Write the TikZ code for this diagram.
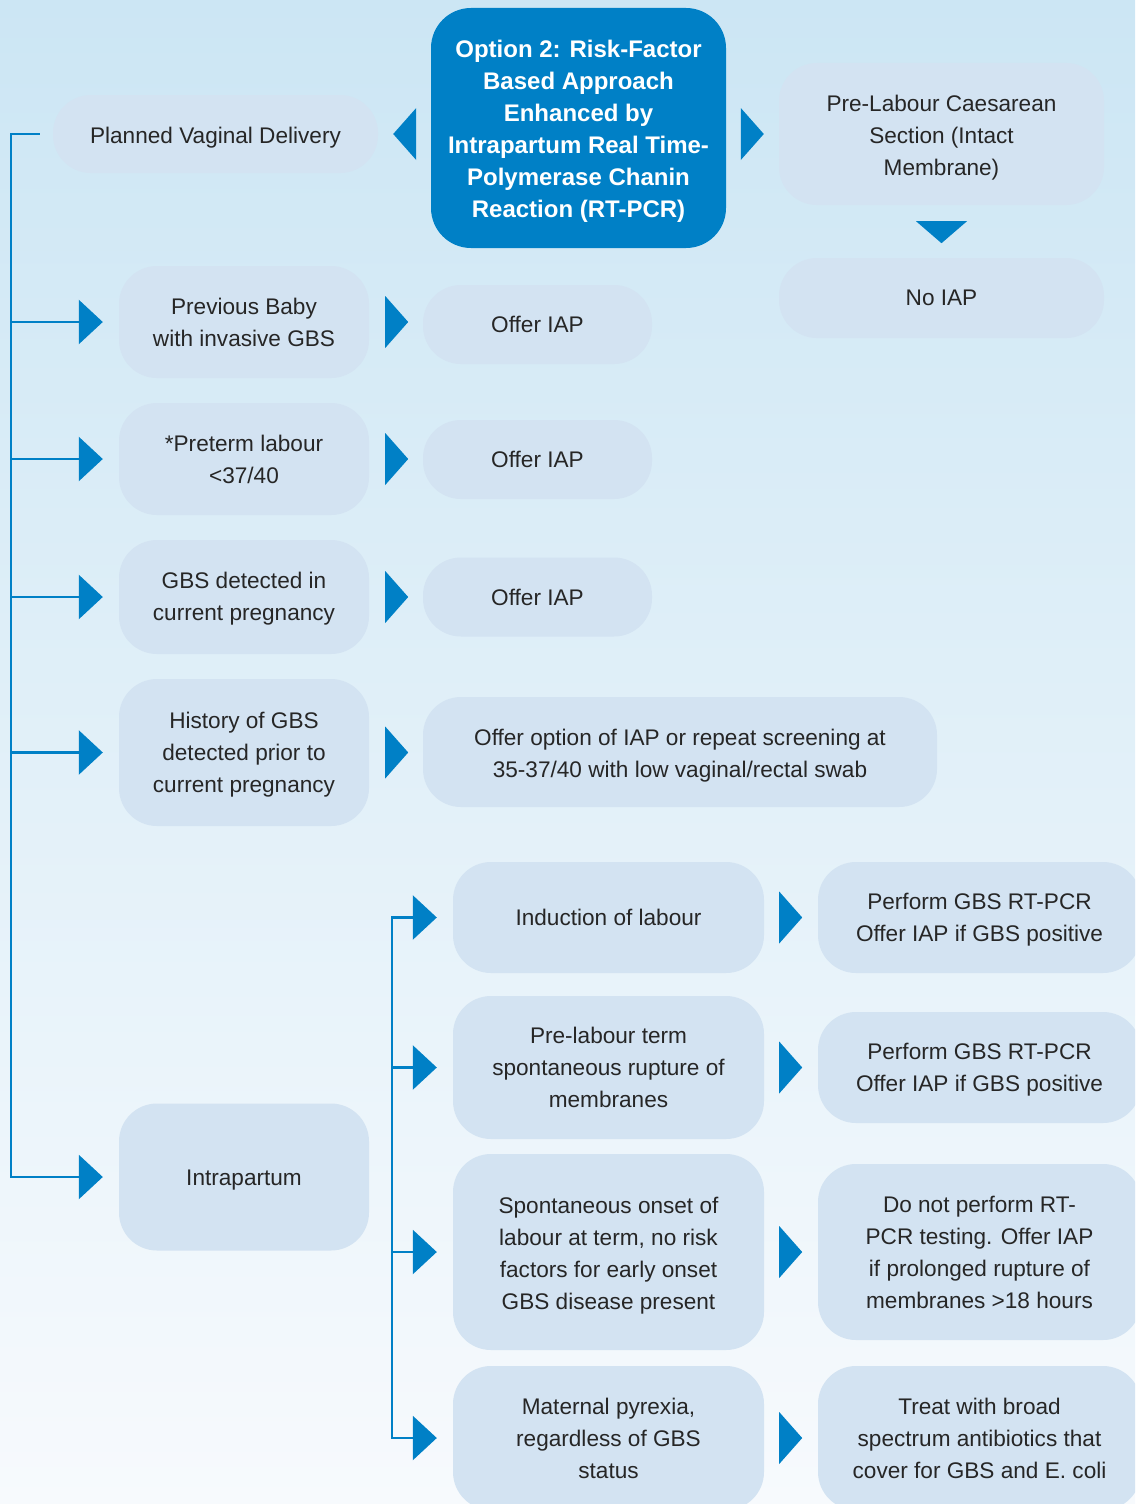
\documentclass[tikz,border=0pt]{standalone}
\usepackage{fontspec}
\setmainfont{Liberation Sans}
\usetikzlibrary{arrows.meta,calc}
\definecolor{bgtop}{HTML}{CCE6F4}
\definecolor{bgbot}{HTML}{F7FAFD}
\definecolor{boxfill}{HTML}{D3E3F2}
\definecolor{gbsblue}{HTML}{0080C6}
\definecolor{txt}{HTML}{262626}
\newcommand\rtri[2]{\fill[gbsblue] ($(#1)+(#2,-26)$) -- ($(#1)+(#2+23,0)$) -- ($(#1)+(#2,26)$) -- cycle;}
\newcommand\lowr[1]{\rule{0pt}{#1pt}}
\begin{document}
\begin{tikzpicture}[x=1pt,y=-1pt,
  box/.style={fill=boxfill, rounded corners=38pt, text=txt, align=center,
    font=\fontsize{22.6}{32}\selectfont, inner sep=0pt},
  optbox/.style={fill=gbsblue, rounded corners=40pt, text=white, align=center,
    font=\fontsize{24}{32}\selectfont\bfseries, inner sep=0pt},
  conn/.style={draw=gbsblue, line width=2.5pt, -{Triangle[length=24pt,width=44pt]}},
  bothconn/.style={draw=gbsblue, line width=2.5pt,
    {Triangle[length=24pt,width=44pt]}-{Triangle[length=24pt,width=44pt]}}
]
\useasboundingbox (0,0) rectangle (1135,1504);
\clip (0,0) rectangle (1135,1504);
\shade[top color=bgtop, bottom color=bgbot] (0,0) rectangle (1135,1504);

% top row
\node[box, minimum width=325pt, minimum height=78pt] (pvd) at (215.5,134) {\lowr{24.5}Planned Vaginal Delivery};
\node[optbox, minimum width=295pt, minimum height=240pt] (opt) at (578.5,128)
  {\lowr{23.5}Option 2: Risk-Factor\\Based Approach\\Enhanced by\\Intrapartum Real Time-\\Polymerase Chanin\\Reaction (RT-PCR)};
\node[box, minimum width=325pt, minimum height=142pt] (plcs) at (941.5,134)
  {\lowr{24.5}Pre-Labour Caesarean\\Section (Intact\\Membrane)};
\node[box, minimum width=325pt, minimum height=80pt] (noiap) at (941.5,298) {No IAP};

% left column
\node[box, minimum width=250pt, minimum height=112pt] (prev) at (244,322) {Previous Baby\\with invasive GBS};
\node[box, minimum width=250pt, minimum height=112pt] (preterm) at (244,459) {*Preterm labour\\<37/40};
\node[box, minimum width=250pt, minimum height=114pt] (gbs) at (244,597) {\lowr{20.5}GBS detected in\\current pregnancy};
\node[box, minimum width=250pt, minimum height=147pt] (hist) at (244,752.5) {\lowr{20.5}History of GBS\\detected prior to\\current pregnancy};
\node[box, minimum width=250pt, minimum height=147pt] (intra) at (244,1177) {\lowr{22.5}Intrapartum};

% offers
\node[box, minimum width=229pt, minimum height=79pt] (off1) at (537.5,324.5) {Offer IAP};
\node[box, minimum width=229pt, minimum height=79pt] (off2) at (537.5,459.5) {Offer IAP};
\node[box, minimum width=229pt, minimum height=79pt] (off3) at (537.5,597) {Offer IAP};
\node[box, minimum width=514pt, minimum height=110pt] (off4) at (680,752)
  {\lowr{24.5}Offer option of IAP or repeat screening at\\35-37/40 with low vaginal/rectal swab};

% intrapartum branches
\node[box, minimum width=311pt, minimum height=111pt] (induct) at (608.5,917.5) {Induction of labour};
\node[box, minimum width=311pt, minimum height=143pt] (plterm) at (608.5,1067.5) {Pre-labour term\\spontaneous rupture of\\membranes};
\node[box, minimum width=311pt, minimum height=196pt] (spont) at (608.5,1252)
  {\lowr{24.5}Spontaneous onset of\\labour at term, no risk\\factors for early onset\\GBS disease present};
\node[box, minimum width=311pt, minimum height=144pt] (mat) at (608.5,1438) {Maternal pyrexia,\\regardless of GBS\\status};

\node[box, minimum width=323pt, minimum height=111pt] (perf1) at (979.5,917.5) {\lowr{20.5}Perform GBS RT-PCR\\Offer IAP if GBS positive};
\node[box, minimum width=323pt, minimum height=111pt] (perf2) at (979.5,1067.5) {\lowr{20.5}Perform GBS RT-PCR\\Offer IAP if GBS positive};
\node[box, minimum width=323pt, minimum height=176pt] (donot) at (979.5,1252)
  {Do not perform RT-\\PCR testing. Offer IAP\\if prolonged rupture of\\membranes >18 hours};
\node[box, minimum width=323pt, minimum height=144pt] (treat) at (979.5,1438)
  {Treat with broad\\spectrum antibiotics that\\cover for GBS and E. coli};

% top triangles
\fill[gbsblue] ($(pvd.east)+(38,-26)$) -- ($(pvd.east)+(15,0)$) -- ($(pvd.east)+(38,26)$) -- cycle;
\rtri{plcs.west}{-38}
\fill[gbsblue] ($(plcs.south)+(-25.5,16)$) -- ($(plcs.south)+(0,38)$) -- ($(plcs.south)+(25.5,16)$) -- cycle;

% row triangles
\rtri{prev.east}{16}
\rtri{preterm.east}{16}
\rtri{gbs.east}{16}
\rtri{hist.east}{16}
\rtri{induct.east}{15}
\rtri{plterm.east}{15}
\rtri{spont.east}{15}
\rtri{mat.east}{15}

% main trunk
\coordinate (trunk) at (11,134);
\draw[conn] ([xshift=-13pt]pvd.west) -| (trunk |- intra.west) -- ([xshift=-16pt]intra.west);
\draw[conn] (trunk |- prev.west) -- ([xshift=-16pt]prev.west);
\draw[conn] (trunk |- preterm.west) -- ([xshift=-16pt]preterm.west);
\draw[conn] (trunk |- gbs.west) -- ([xshift=-16pt]gbs.west);
\draw[conn] (trunk |- hist.west) -- ([xshift=-16pt]hist.west);

% second trunk
\coordinate (trunkb) at (392,917.5);
\draw[bothconn] ([xshift=-16pt]induct.west) -| (trunkb |- mat.west) -- ([xshift=-16pt]mat.west);
\draw[conn] (trunkb |- plterm.west) -- ([xshift=-16pt]plterm.west);
\draw[conn] (trunkb |- spont.west) -- ([xshift=-16pt]spont.west);
\end{tikzpicture}
\end{document}
